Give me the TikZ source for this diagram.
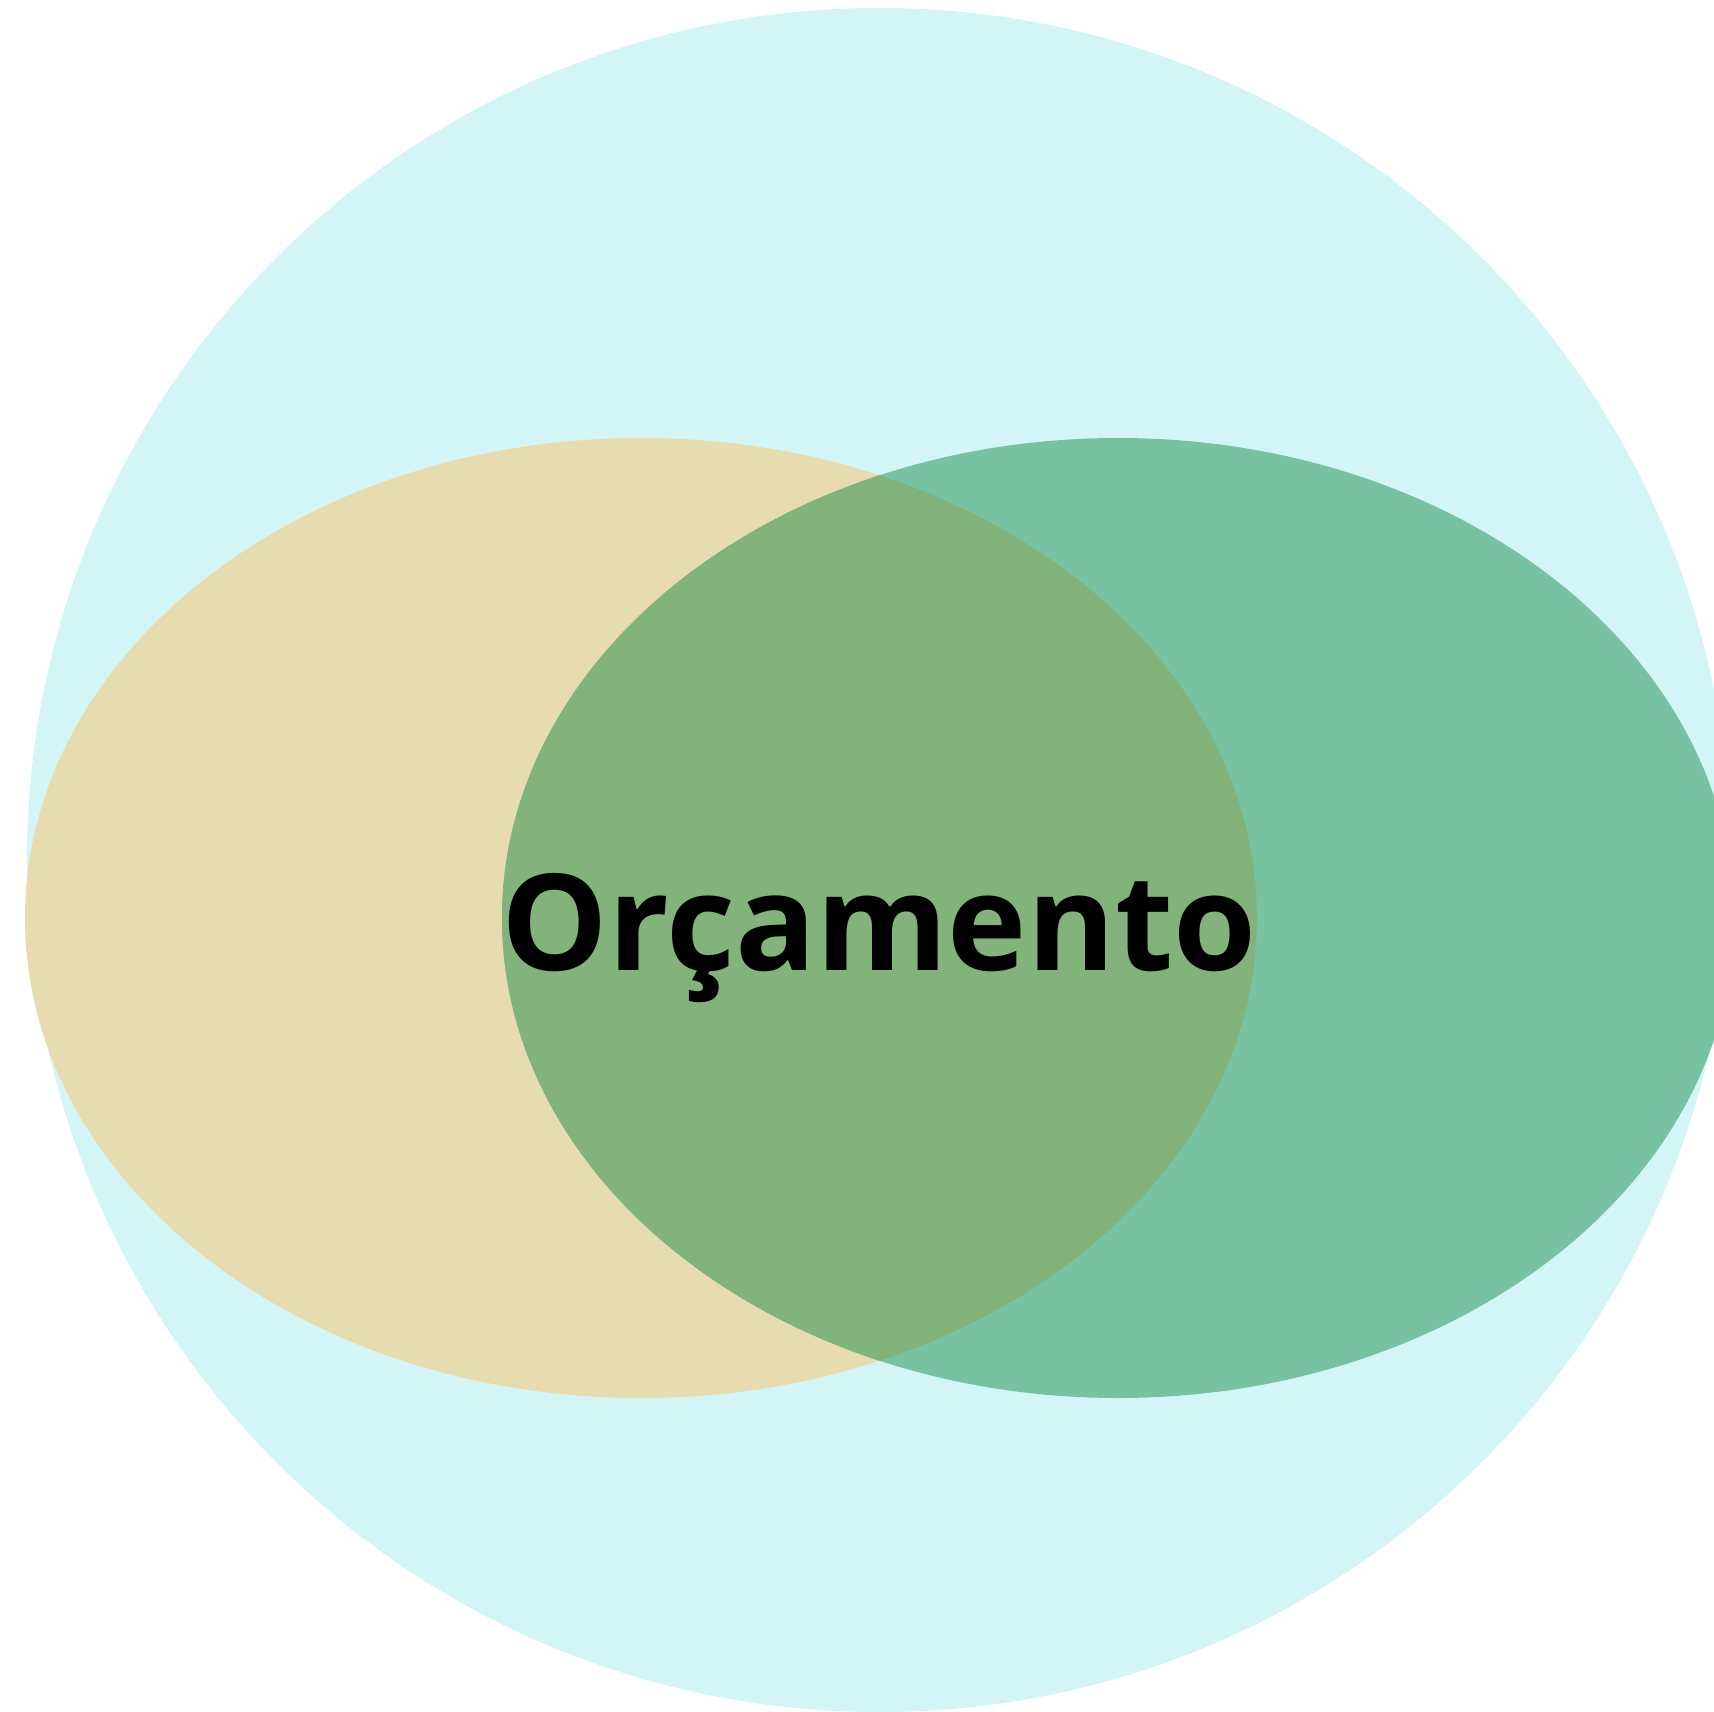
\documentclass[tikz,border=0pt]{standalone}
\usepackage{fontspec}
\setmainfont{Open Sans}
\definecolor{bigc}{HTML}{D4F5F5}
\definecolor{tanc}{HTML}{E7DCB0}
\definecolor{greenc}{HTML}{77C2A2}
\definecolor{overc}{HTML}{82B37B}
\tikzset{
  lefte/.style={x radius=616pt, y radius=480pt},
  labeltext/.style={font=\bfseries\fontsize{134}{160}\selectfont, text=black, inner sep=0pt, anchor=base}
}
\begin{document}
\begin{tikzpicture}[x=1pt,y=-1pt]
\useasboundingbox (0,0) rectangle (1714,1712);
\clip (0,0) rectangle (1714,1712);
\fill[white] (0,0) rectangle (1714,1712);
\fill[bigc] (879,860) circle[radius=852pt];
\fill[tanc] (641,918) ellipse[lefte];
\fill[greenc] (1118,918) ellipse[lefte];
\begin{scope}
  \clip (641,918) ellipse[lefte];
  \fill[overc] (1118,918) ellipse[lefte];
\end{scope}
\node[labeltext] (label) at (879,970) {Orçamento};
\end{tikzpicture}
\end{document}
